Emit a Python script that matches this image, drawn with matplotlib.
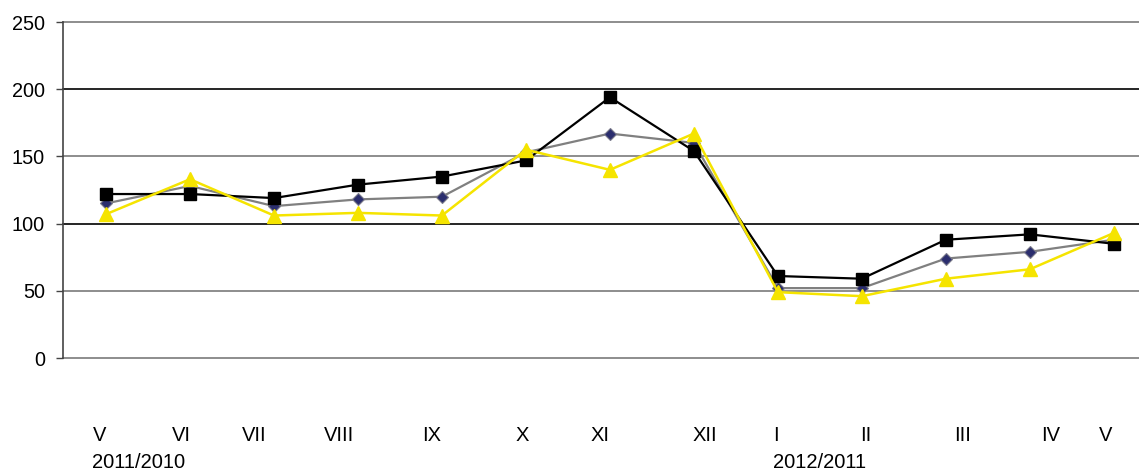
import matplotlib
matplotlib.use("Agg")
import matplotlib.pyplot as plt

# month labels along the bottom, and the two season labels
months = ["V", "VI", "VII", "VIII", "IX", "X", "XI", "XII", "I", "II", "III", "IV", "V"]
seasons = ["2011/2010", "2012/2011"]

# values
black_vals = [122, 122, 119, 129, 135, 147, 194, 154, 61, 59, 88, 92, 85]
gray_vals = [115, 128, 113, 118, 120, 153, 167, 160, 52, 52, 74, 79, 88]
yellow_vals = [107, 133, 106, 108, 106, 155, 140, 167, 49, 46, 59, 66, 93]

y_ticks = [0, 50, 100, 150, 200, 250]

# small horizontal nudges of the month labels (fraction of one step)
label_shift = [-0.08, -0.1, -0.23, -0.23, -0.12, -0.05, -0.12, 0.13, -0.03, 0.05, 0.2, 0.24, -0.1]

W, H = 1139, 473
fig = plt.figure(figsize=(W / 100, H / 100), dpi=100)
ax = fig.add_axes([63 / W, 1 - 358 / H, 1 - 63 / W, 336 / H])

x = list(range(len(months)))

ax.plot(x, gray_vals, color="#808080", lw=1.6, marker="D", ms=6,
        mfc="#2b2e6e", mec="#7a7a8a", mew=0.8, zorder=3)
ax.plot(x, black_vals, color="black", lw=1.6, marker="s", ms=9,
        mfc="black", mec="black", zorder=4)
ax.plot(x, yellow_vals, color="#f5e400", lw=1.8, marker="^", ms=10,
        mfc="#f5e400", mec="#f5e400", zorder=5)

ax.set_xlim(-0.512, 12.3)
ax.set_ylim(0, 250)

# horizontal grid lines
for v in y_ticks:
    col = "black" if v in (100, 200) else "#7a7a7a"
    ax.axhline(v, color=col, lw=1.2, zorder=1, clip_on=False)

for side in ["top", "right", "bottom"]:
    ax.spines[side].set_visible(False)
ax.spines["left"].set_color("#444444")
ax.spines["left"].set_linewidth(1.2)

font = ["Liberation Sans", "DejaVu Sans"]
ax.set_yticks(y_ticks)
ax.set_yticklabels([str(v) for v in y_ticks], family=font, fontsize=14.3)
ax.tick_params(axis="y", length=5, width=1, color="#444444", pad=8)
ax.set_xticks([])

# month labels row and season row under the plot
row_y = 1 - 435 / H
for i, m in enumerate(months):
    xf = (63 + (x[i] + 0.512 + label_shift[i]) * 84) / W
    fig.text(xf, row_y, m, ha="center", va="center", fontsize=14.5, family=font)

fig.text(92 / W, 1 - 462 / H, seasons[0], ha="left", va="center", fontsize=14.5, family=font)
fig.text(773 / W, 1 - 462 / H, seasons[1], ha="left", va="center", fontsize=14.5, family=font)

fig.savefig("out.png", dpi=100)
